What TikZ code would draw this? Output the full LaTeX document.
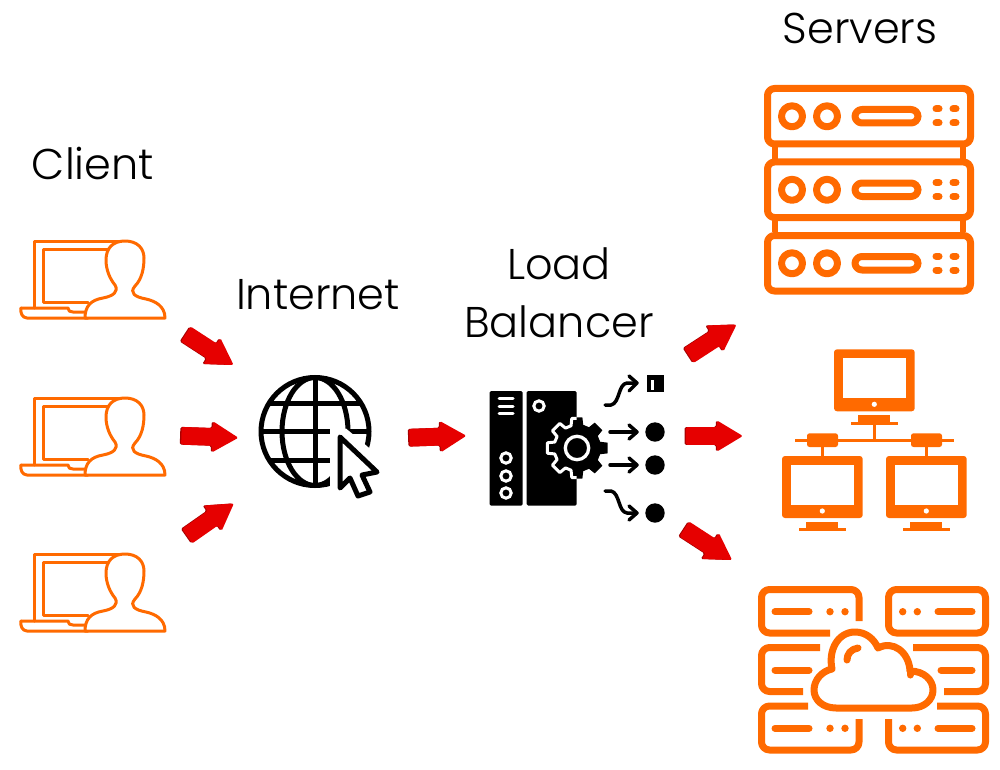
\documentclass[tikz,border=0pt]{standalone}
\usepackage{fontspec}
\setmainfont{Poppins Light}
\usetikzlibrary{shapes.arrows}
\definecolor{org}{HTML}{FF6A00}
\definecolor{arrred}{HTML}{E60000}
\definecolor{arrdark}{HTML}{A80000}
\tikzset{
  x=1pt,y=-1pt,
  lbl/.style={font=\fontsize{43}{47}\selectfont,inner sep=0pt,text=black},
  redarrow/.style={single arrow,fill=arrred,rounded corners=1.5pt,inner xsep=0pt,inner ysep=8.5pt,minimum height=57pt,minimum width=31pt,single arrow head extend=6.5pt,single arrow tip angle=62,preaction={fill=arrdark,transform canvas={xshift=-1.3pt}}},
  ol/.style={draw=org,line width=#1,line cap=round,line join=round},
  ol/.default=7pt,
  bk/.style={draw=black,line width=3.5pt,line cap=round,line join=round}
}
\newcommand{\clienticon}[1]{%
  \begin{scope}[yshift=-#1pt,ol=3pt]
    \draw (88,241) -- (34,241) -- (34,308);
    \draw (110,249) -- (43,249) -- (43,302) -- (88,302);
    \draw (88,241) -- (125,241);
    \draw (21,308) -- (68,308) .. controls (68,311) and (70,312) .. (73,312) -- (88,312);
    \draw (21,308) .. controls (20,312) and (22,318) .. (27,318) -- (88,318);
    \draw[fill=white] (85,318) -- (165,318) .. controls (165,306) and (155,301) .. (146,299)
      .. controls (135,297) and (129,293) .. (135,286)
      .. controls (142,279) and (144,268) .. (144,258)
      .. controls (144,248) and (137,241) .. (125,241)
      .. controls (113,241) and (106,248) .. (106,260)
      .. controls (106,270) and (110,279) .. (115,285)
      .. controls (119,292) and (113,296) .. (103,298)
      .. controls (91,300) and (85,306) .. (85,318) -- cycle;
  \end{scope}}
\newcommand{\rackicon}[1]{%
  \begin{scope}[yshift=-#1pt]
    \draw[ol,rounded corners=7pt] (767.5,88.5) rectangle (970.5,144);
    \draw[ol] (792,116.3) circle (10.5) (827,116.3) circle (10.5);
    \draw[ol,rounded corners=7pt] (855,109.5) rectangle (918,123);
    \draw[draw=org,line width=7pt,line cap=round] (936,109) -- (939,109) (953,109) -- (956,109) (936,123) -- (939,123) (953,123) -- (956,123);
  \end{scope}}
\newcommand{\mymonitor}[2]{%
  \begin{scope}[xshift=#1pt,yshift=-#2pt]
    \fill[org,rounded corners=3pt] (834,349.3) rectangle (914.7,411.3);
    \fill[white] (843.3,358.3) rectangle (906,398.3);
    \fill[white] (874.3,404.3) circle (2.6);
    \fill[org] (858.3,415) rectangle (890.3,422);
    \fill[org] (851,421.7) rectangle (898.3,424.7);
  \end{scope}}
\newcommand{\gearshape}[2]{(-15:#1) \foreach \a in {0,45,...,315}{ -- (\a-15:#1) -- (\a-10:#2) -- (\a+10:#2) -- (\a+15:#1)} -- cycle}
\begin{document}
\begin{tikzpicture}
\useasboundingbox (0,0) rectangle (1000,770);
\fill[white] (0,0) rectangle (1000,770);
% labels
\node[lbl] (servers) at (860,28) {Servers};
\node[lbl] (client) at (93,164) {Client};
\node[lbl] (internet) at (318,295) {Internet};
\node[lbl] (load) at (559,264) {Load};
\node[lbl] (balancer) at (559,322) {Balancer};
% clients
\clienticon{0}\clienticon{157}\clienticon{313}
% globe
\begin{scope}[draw=black,line width=5pt]
  \draw (315,431.5) circle (54);
  \draw (315,431.5) ellipse (33 and 54);
  \draw (315,377) -- (315,486);
  \draw (269,403) -- (361,403);
  \draw (261,431) -- (369,431);
  \draw (269,460) -- (361,460);
\end{scope}
\fill[white] (330,428.5) -- (346,428.5) -- (374,452) -- (385,500) -- (330,500) -- cycle;
\draw[fill=white,line width=5pt,line join=round] (340,437) -- (377,472) -- (362,475) -- (370,492) -- (358,496) -- (350,478) -- (340,488) -- cycle;
% load balancer
\fill[black,rounded corners=1.5pt] (489.5,391) rectangle (522.7,505.7);
\fill[black,rounded corners=1.5pt] (526.7,391) rectangle (576.7,505.7);
\begin{scope}[draw=white,line width=3pt,line cap=round]
  \draw (499,398) -- (513,398) (499,406) -- (513,406) (499,413) -- (513,413);
  \draw (506,458) circle (5.2) (506,476) circle (5.2) (506,493) circle (5.2) (539,406) circle (5.2);
\end{scope}
\begin{scope}[shift={(577,448)}]
  \fill[black] \gearshape{24}{31};
  \begin{scope}
    \clip (-35,-35) rectangle (-0.3,35);
    \draw[white,line width=3pt,line join=round] \gearshape{23}{30};
  \end{scope}
  \draw[white,line width=3.3pt] (0,0) circle (11.7);
\end{scope}
\draw[bk] (605,405) -- (611,405) .. controls (620,403) and (618,384) .. (627,383) -- (636,383);
\draw[bk] (629,376) -- (637,383) -- (629,391);
\draw[bk] (610,432) -- (636,432);
\draw[bk] (629,425) -- (637,432) -- (629,439);
\draw[bk] (610,465) -- (636,465);
\draw[bk] (629,458) -- (637,465) -- (629,472);
\draw[bk] (605,491) -- (611,491) .. controls (620,493) and (618,512) .. (627,513) -- (636,513);
\draw[bk] (629,506) -- (637,513) -- (629,520);
\fill[black] (647,375) rectangle (664,392);
\fill[white] (651,380) rectangle (654,390);
\fill[black] (655,432) circle (9.7) (655,465) circle (9.7) (655,513) circle (9.7);
% racks
\draw[draw=org,line width=6.7pt] (775,147) -- (775,159) (963,147) -- (963,159) (775,220) -- (775,232) (963,220) -- (963,232);
\rackicon{0}\rackicon{73.5}\rackicon{147}
% network
\mymonitor{0}{0}\mymonitor{-52}{106.7}\mymonitor{52}{106.7}
\draw[draw=org,line width=3pt] (795,440) -- (954,440);
\draw[draw=org,line width=3.3pt] (874.3,424) -- (874.3,440) (822.3,447) -- (822.3,456) (926.3,447) -- (926.3,456);
\fill[org,rounded corners=2.5pt] (807,433.3) rectangle (838,447);
\fill[org,rounded corners=2.5pt] (911,433.3) rectangle (942,447);
% cloud servers
\begin{scope}[ol,line cap=butt,rounded corners=8pt]
  \draw (859,621) -- (859,589.5) -- (761.5,589.5) -- (761.5,633) -- (830,633);
  \draw (888.5,589.5) rectangle (985.5,633);
  \draw (820,647.5) -- (761.5,647.5) -- (761.5,691.5) -- (803,691.5);
  \draw (913,647.5) -- (985.5,647.5) -- (985.5,691.5) -- (944,691.5);
  \draw (808,706) -- (761.5,706) -- (761.5,750) -- (859,750) -- (859,719);
  \draw (888.5,719) -- (888.5,750) -- (985.5,750) -- (985.5,706) -- (937,706);
\end{scope}
\begin{scope}[ol]
  \draw (775,611.7) -- (809,611.7) (938,611.7) -- (972,611.7);
  \draw (775,670) -- (809,670) (941,670) -- (972,670);
  \draw (775,728.3) -- (809,728.3) (938,728.3) -- (972,728.3);
\end{scope}
\fill[org] (830,611.7) circle (3.7) (845,611.7) circle (3.7) (902.7,611.7) circle (3.7) (917.3,611.7) circle (3.7)
  (830,728.3) circle (3.7) (845,728.3) circle (3.7) (902.7,728.3) circle (3.7) (917.3,728.3) circle (3.7);
\draw[ol,fill=white] (836,708) .. controls (823,708) and (814,700) .. (814,690)
  .. controls (814,680) and (822,671) .. (832,669)
  .. controls (828,650) and (838,632) .. (855,632)
  .. controls (866,632) and (874,639) .. (878,648)
  .. controls (893,640) and (909,652) .. (910,671)
  .. controls (924,671) and (933,680) .. (933,690)
  .. controls (933,700) and (924,708) .. (912,708) -- cycle;
\draw[ol] (910,671) -- (910,675);
\draw[ol] (847,660) .. controls (847,654) and (851,649) .. (858,648);
% red arrows
\node[redarrow,rotate=-33] (a1) at (203.5,345.5) {};
\node[redarrow,rotate=-2] (a2) at (202.5,436.5) {};
\node[redarrow,rotate=35] (a3) at (204.5,524) {};
\node[redarrow,rotate=2] (a4) at (430.5,437) {};
\node[redarrow,rotate=33] (a5) at (706.5,344) {};
\node[redarrow,rotate=0] (a6) at (707,436) {};
\node[redarrow,rotate=-33] (a7) at (702,540.5) {};
\end{tikzpicture}
\end{document}
